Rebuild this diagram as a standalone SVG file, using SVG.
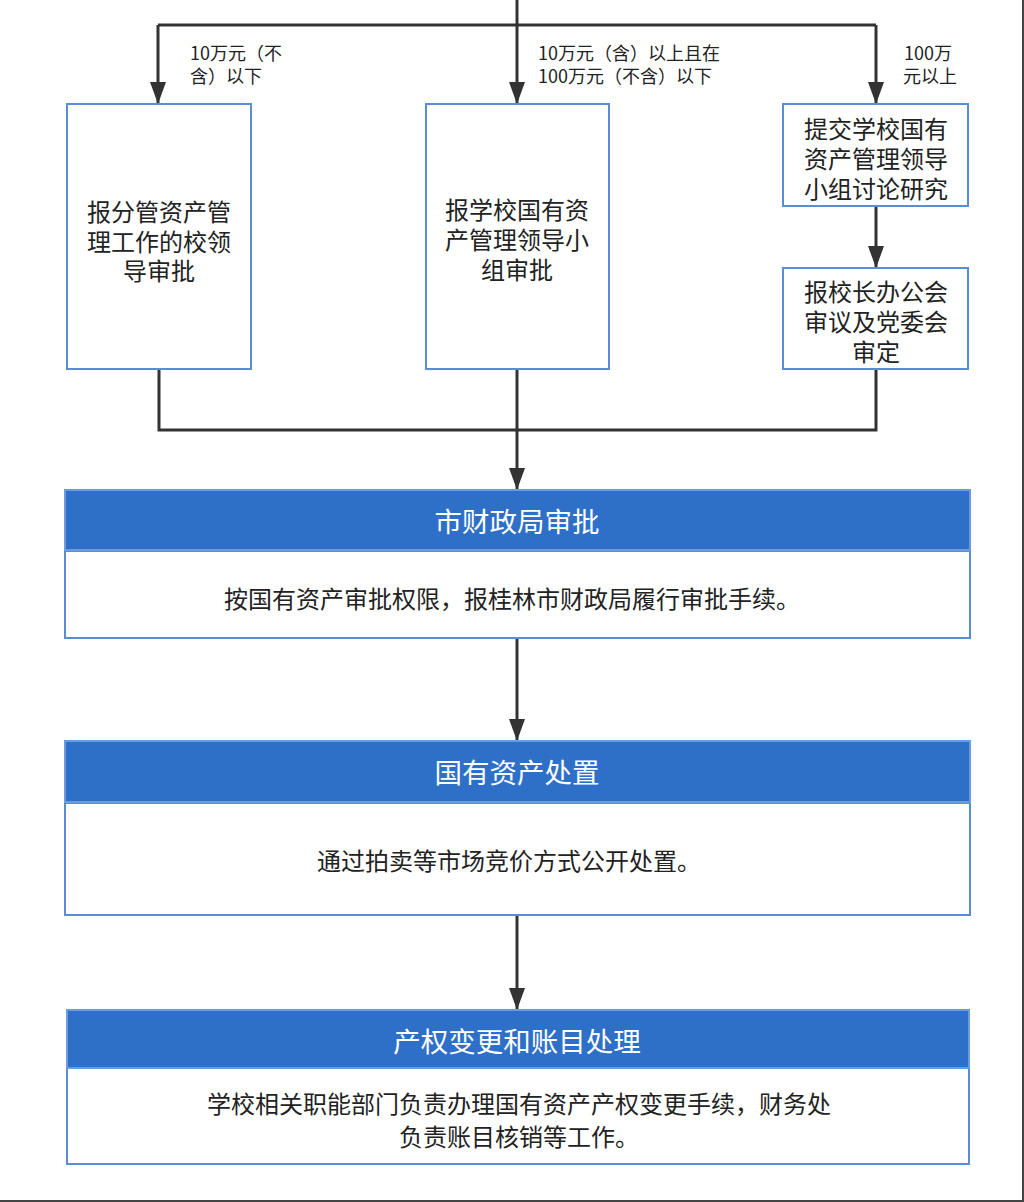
<svg xmlns="http://www.w3.org/2000/svg" width="1024" height="1202" viewBox="0 0 1024 1202">
<defs>
<marker id="ah" viewBox="0 0 22 16" refX="22" refY="8" markerWidth="22" markerHeight="16" markerUnits="userSpaceOnUse" orient="auto">
<path d="M0,0 L22,8 L0,16 Z" fill="#333333"/>
</marker>
<style>
text{font-family:"Noto Sans CJK SC","Noto Sans",sans-serif;fill:#222222;text-anchor:middle;dominant-baseline:central}
.node{fill:#ffffff;stroke:#5B8DD6;stroke-width:2}
.hdr{fill:#2E6FC8;stroke:#6E9BDD;stroke-width:2}
.body{fill:#ffffff;stroke:#5B8DD6;stroke-width:2}
.n{font-size:24px}
.h{font-size:27.5px;fill:#ffffff}
.b{font-size:24px}
.lbl{font-size:18px;text-anchor:start}
.c{fill:none;stroke:#333333;stroke-width:3}
</style>
</defs>
<rect width="1024" height="1202" fill="#ffffff"/>
<g id="connectors">
<path class="c" d="M517,0 V25"/>
<path class="c" d="M158,25 H876"/>
<path class="c" d="M158,25 V104" marker-end="url(#ah)"/>
<path class="c" d="M517,25 V104" marker-end="url(#ah)"/>
<path class="c" d="M876,25 V104" marker-end="url(#ah)"/>
<path class="c" d="M876,206 V268" marker-end="url(#ah)"/>
<path class="c" d="M159,369 V430 H876 V369"/>
<path class="c" d="M517,369 V490" marker-end="url(#ah)"/>
<path class="c" d="M517,638 V741" marker-end="url(#ah)"/>
<path class="c" d="M517,915 V1010" marker-end="url(#ah)"/>
<text class="lbl" x="190" y="52">10万元（不<tspan x="190" dy="23">含）以下</tspan></text>
<text class="lbl" x="538" y="52">10万元（含）以上且在<tspan x="538" dy="23">100万元（不含）以下</tspan></text>
<text class="lbl" x="904" y="52">100万<tspan x="903" dy="23">元以上</tspan></text>
</g>
<g id="node-leader">
<rect class="node" x="67" y="104" width="184" height="265"/>
<text class="n" x="159" y="210">报分管资产管<tspan x="159" dy="30">理工作的校领</tspan><tspan x="159" dy="29">导审批</tspan></text>
</g>
<g id="node-group">
<rect class="node" x="426" y="104" width="183" height="265"/>
<text class="n" x="517" y="208">报学校国有资<tspan x="517" dy="30">产管理领导小</tspan><tspan x="517" dy="30">组审批</tspan></text>
</g>
<g id="node-discuss">
<rect class="node" x="783" y="104" width="185" height="102"/>
<text class="n" x="876" y="127">提交学校国有<tspan x="876" dy="30">资产管理领导</tspan><tspan x="876" dy="30">小组讨论研究</tspan></text>
</g>
<g id="node-meeting">
<rect class="node" x="783" y="268" width="185" height="101"/>
<text class="n" x="876" y="290">报校长办公会<tspan x="876" dy="30">审议及党委会</tspan><tspan x="876" dy="30">审定</tspan></text>
</g>
<g id="panel-finance">
<rect class="body" x="65" y="551" width="905" height="87"/>
<rect class="hdr" x="65" y="490" width="905" height="60"/>
<text class="h" x="517" y="520">市财政局审批</text>
<text class="b" x="512" y="597">按国有资产审批权限，报桂林市财政局履行审批手续。</text>
</g>
<g id="panel-dispose">
<rect class="body" x="65" y="803" width="905" height="112"/>
<rect class="hdr" x="65" y="741" width="905" height="61"/>
<text class="h" x="517" y="771">国有资产处置</text>
<text class="b" x="509" y="859">通过拍卖等市场竞价方式公开处置。</text>
</g>
<g id="panel-account">
<rect class="body" x="67" y="1068" width="902" height="96"/>
<rect class="hdr" x="67" y="1010" width="902" height="58"/>
<text class="h" x="517" y="1040">产权变更和账目处理</text>
<text class="b" x="519" y="1102">学校相关职能部门负责办理国有资产产权变更手续，财务处<tspan x="519" dy="33">负责账目核销等工作。</tspan></text>
</g>
<path d="M1023,0 V1201 H0" fill="none" stroke="#444444" stroke-width="2"/>
</svg>
